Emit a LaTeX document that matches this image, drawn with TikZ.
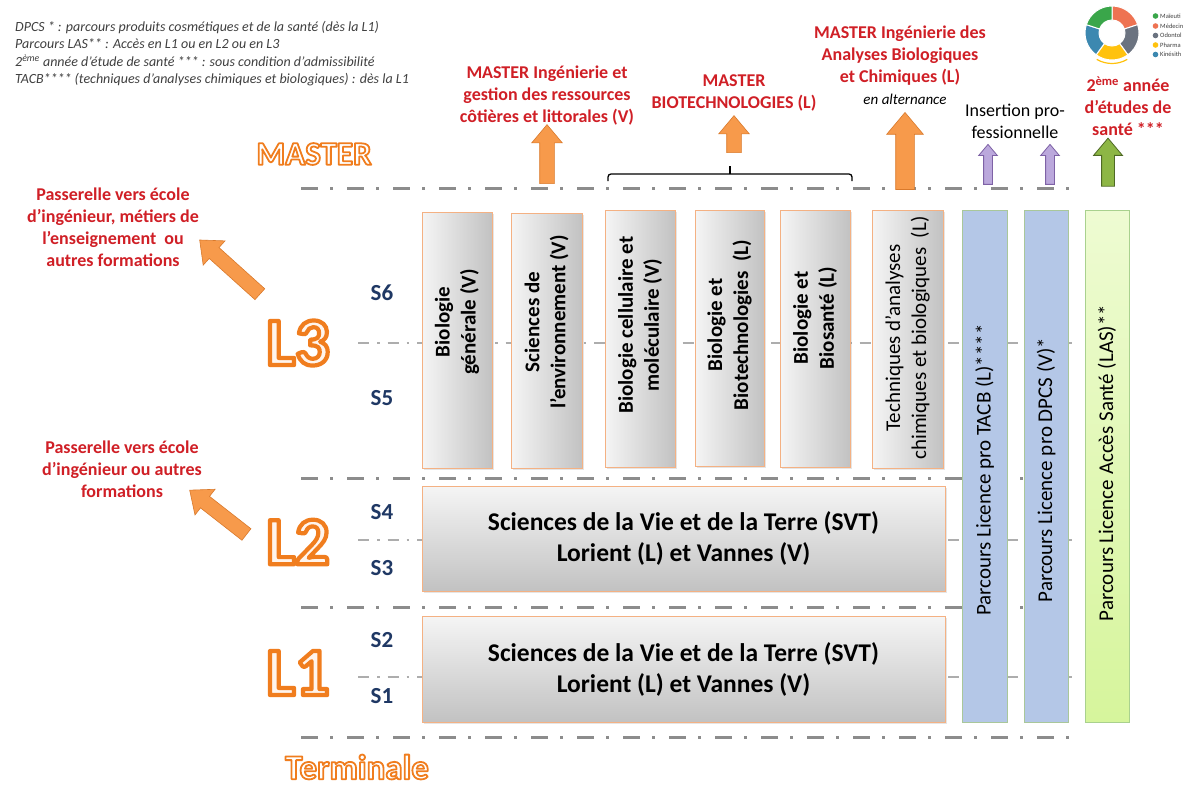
\documentclass[tikz,border=0pt]{standalone}
\usepackage{fontspec}
\setmainfont{Carlito}
\usetikzlibrary{shapes.arrows,shadows}

\definecolor{lred}{HTML}{D01F26}
\definecolor{lorange}{HTML}{F07D1E}
\definecolor{lfill}{HTML}{FFF4EC}
\definecolor{aorange}{HTML}{F79A4B}
\definecolor{aedge}{HTML}{D9792B}
\definecolor{bxedge}{HTML}{F4B183}
\definecolor{bxlight}{HTML}{F5F5F5}
\definecolor{bxdark}{HTML}{C2C2C2}
\definecolor{pblue}{HTML}{B4C7E7}
\definecolor{pbedge}{HTML}{A9C79A}
\definecolor{lgreen}{HTML}{D6F59C}
\definecolor{lgreenlt}{HTML}{EEFBD2}
\definecolor{gedge}{HTML}{A9D18E}
\definecolor{navy}{HTML}{1F3864}
\definecolor{lgray}{HTML}{8C8C8C}
\definecolor{sgray}{HTML}{ADADAD}
\definecolor{legtxt}{HTML}{404040}
\definecolor{ppl}{HTML}{BBA8DC}
\definecolor{ppledge}{HTML}{7E62A6}
\definecolor{agreen}{HTML}{8DB645}
\definecolor{agedge}{HTML}{4F6A25}
\definecolor{dgreen}{HTML}{3AA64A}
\definecolor{dorange}{HTML}{EE7352}
\definecolor{dgray}{HTML}{6B7380}
\definecolor{dyellow}{HTML}{FFC20E}
\definecolor{dblue}{HTML}{3C88B0}

% outlined text: stroke colour (r g b), stroke width, text
\newcommand\outlinetxt[3]{\special{pdf:literal direct #1 RG #2 w 1 j 2 Tr}#3\special{pdf:literal direct 0 Tr}}

\tikzset{
  mainline/.style={draw=lgray, line width=3pt, dash pattern=on 17pt off 12pt on 3pt off 14pt},
  semline/.style={draw=sgray, line width=1.8pt, dash pattern=on 11pt off 8pt on 2.5pt off 8pt},
  vbox/.style={draw=bxedge, line width=0.9pt, inner sep=0pt, left color=bxlight, right color=bxdark,
    drop shadow={shadow xshift=1.5pt, shadow yshift=-1.5pt, opacity=.2}},
  hbox/.style={draw=bxedge, line width=0.9pt, inner sep=0pt, top color=bxlight, bottom color=bxdark,
    drop shadow={shadow xshift=1.5pt, shadow yshift=-1.5pt, opacity=.2}, align=center,
    font=\fontsize{25.5}{31}\selectfont\bfseries},
  bluebox/.style={draw=pbedge, line width=0.9pt, inner sep=0pt, fill=pblue,
    drop shadow={shadow xshift=1.2pt, shadow yshift=-1.2pt, opacity=.15}},
  greenbox/.style={draw=gedge, line width=0.9pt, inner sep=0pt, top color=lgreenlt, bottom color=lgreen,
    drop shadow={shadow xshift=1.2pt, shadow yshift=-1.2pt, opacity=.15}},
  vtxt/.style={rotate=90, align=center, font=\fontsize{21}{26}\selectfont\bfseries},
  ptxt/.style={rotate=90, align=center, font=\fontsize{21}{26}\selectfont},
  redtxt/.style={align=center, text=lred, font=\fontsize{18}{22}\selectfont\bfseries},
  slabel/.style={text=navy, font=\fontsize{23}{23}\selectfont\bfseries},
  bigL/.style={text=lfill, font=\fontsize{68}{68}\selectfont\bfseries},
  outtxt/.style={text=white, inner sep=0pt, font=\fontsize{#1}{#1}\selectfont\bfseries},
  oarrow/.style={single arrow, draw=aedge, fill=aorange, line width=0.6pt, inner xsep=0pt,
    single arrow tip angle=80},
  parrow/.style={single arrow, draw=ppledge, fill=ppl, line width=0.8pt, inner xsep=0pt,
    single arrow tip angle=80, inner ysep=4pt, single arrow head extend=5pt},
  garrow/.style={single arrow, draw=agedge, fill=agreen, line width=0.8pt, inner xsep=0pt,
    single arrow tip angle=80, inner ysep=6pt, single arrow head extend=8pt},
}

\begin{document}
\begin{tikzpicture}[x=1pt,y=-1pt]
\useasboundingbox (0,0) rectangle (1194,787);
\fill[white] (0,0) rectangle (1194,787);

% ---------- legend text ----------
\node[anchor=north west, inner sep=0pt, align=left, text=legtxt,
      font=\fontsize{14}{17.5}\selectfont\itshape] (legend) at (15,21)
 {DPCS * : parcours produits cosmétiques et de la santé (dès la L1)\\
  Parcours LAS** : Accès en L1 ou en L2 ou en L3\\
  2\textsuperscript{ème} année d’étude de santé *** : sous condition d’admissibilité\\
  TACB**** (techniques d’analyses chimiques et biologiques) : dès la L1};

% ---------- donut chart ----------
\begin{scope}[shift={(1112,33)}, yscale=-1]
  \foreach \a/\c in {90/dorange, 18/dgray, -54/dyellow, -126/dblue, -198/dgreen}{
    \pgfmathsetmacro{\b}{\a-72}
    \fill[\c, draw=white, line width=1pt] (\a:27) arc[start angle=\a, end angle=\b, radius=27]
       -- (\b:13) arc[start angle=\b, end angle=\a, radius=13] -- cycle;
  }
  \draw[dyellow, line width=1.2pt] (-60:30.5) arc[start angle=-60, end angle=-120, radius=30.5];
\end{scope}
\coordinate (donut) at (1112,33);
\foreach \yy/\c/\t [count=\i] in {16/dgreen/Maïeuti, 26/dorange/Médecin, 35.5/dgray/Odontol, 45/dyellow/Pharma, 54.5/dblue/Kinésith}{
  \fill[\c] (1155.5,\yy) circle (2.8);
  \node[anchor=west, inner sep=0pt, text=legtxt, font=\fontsize{6.5}{6.5}\selectfont] (dl\i) at (1160,\yy) {\t};
}

% ---------- dash-dot lines ----------
\coordinate (mA1) at (301,188); \coordinate (mA2) at (1078,188);
\coordinate (mB1) at (301,478); \coordinate (mB2) at (1075,478);
\coordinate (mC1) at (301,607); \coordinate (mC2) at (1075,607);
\coordinate (mD1) at (301,737); \coordinate (mD2) at (1075,737);
\coordinate (sA1) at (358,343); \coordinate (sA2) at (1072,343);
\coordinate (sB1) at (358,540); \coordinate (sB2) at (1072,540);
\coordinate (sC1) at (358,677); \coordinate (sC2) at (1072,677);
\draw[semline] (sA1) -- (sA2);
\draw[semline] (sB1) -- (sB2);
\draw[semline] (sC1) -- (sC2);
\draw[mainline] (mA1) -- (mA2);
\draw[mainline] (mB1) -- (mB2);
\draw[mainline] (mC1) -- (mC2);
\draw[mainline] (mD1) -- (mD2);

% ---------- L3 vertical boxes ----------
\node[vbox, minimum width=70, minimum height=256] (b1) at (457,340) {};
\node[vbox, minimum width=71, minimum height=255] (b2) at (546.5,340.5) {};
\node[vbox, minimum width=70, minimum height=257] (b3) at (640,338.5) {};
\node[vbox, minimum width=69, minimum height=256] (b4) at (729.5,338) {};
\node[vbox, minimum width=70, minimum height=257] (b5) at (815,338.5) {};
\node[vbox, minimum width=71, minimum height=258] (b6) at (907.5,339) {};
\node[vtxt] (t1) at (457,322) {Biologie\\générale (V)};
\node[vtxt] (t2) at (546.5,322) {Sciences de\\l’environnement (V)};
\node[vtxt] (t3) at (640,325) {Biologie cellulaire et\\moléculaire (V)};
\node[vtxt] (t4) at (729.5,325) {Biologie et\\Biotechnologies~ (L)};
\node[vtxt] (t5) at (815,318) {Biologie et\\Biosanté (L)};
\node[ptxt] (t6) at (907.5,338) {Techniques d’analyses\\chimiques et biologiques~ (L)};

% ---------- L2 / L1 boxes ----------
\node[hbox, minimum width=523, minimum height=105] (svt2) at (683.5,538.5)
  {Sciences de la Vie et de la Terre (SVT)\\Lorient (L) et Vannes (V)};
\node[hbox, minimum width=523, minimum height=106] (svt1) at (683.5,669)
  {Sciences de la Vie et de la Terre (SVT)\\Lorient (L) et Vannes (V)};

% ---------- licence pro / LAS boxes ----------
\node[bluebox, minimum width=45, minimum height=512] (tacb) at (984.5,466) {};
\node[bluebox, minimum width=44, minimum height=512] (dpcs) at (1046,466) {};
\node[greenbox, minimum width=44, minimum height=512] (las) at (1107,466) {};
\node[ptxt] (ttacb) at (984.5,470) {Parcours Licence pro TACB (L)****};
\node[ptxt] (tdpcs) at (1046,470) {Parcours Licence pro DPCS (V)*};
\node[ptxt] (tlas) at (1107,463) {Parcours Licence Accès Santé (LAS)**};

% ---------- brace ----------
\coordinate (brL) at (608,181); \coordinate (brR) at (852,181);
\coordinate (brM) at (730,174); \coordinate (brT) at (730,166);
\draw[line width=1.3pt, rounded corners=3pt] (brL) -- (608,174) -- (852,174) -- (brR);
\draw[line width=1.3pt] (brM) -- (brT);

% ---------- upward arrows ----------
\node[oarrow, rotate=90, minimum height=59, inner ysep=7pt, single arrow head extend=8pt] (a1) at (547,158.5) {};
\node[oarrow, rotate=90, minimum height=37, inner ysep=7pt, single arrow head extend=8pt] (a2) at (734,138.5) {};
\node[oarrow, rotate=90, minimum height=77, inner ysep=9pt, single arrow head extend=9pt] (a3) at (905,156.5) {};
\node[parrow, rotate=90, minimum height=40] (p1) at (988,167) {};
\node[parrow, rotate=90, minimum height=40] (p2) at (1050,167) {};
\node[garrow, rotate=90, minimum height=48] (g1) at (1108,166) {};

% ---------- diagonal arrows ----------
\node[oarrow, rotate=138, minimum height=81, inner ysep=7pt, single arrow head extend=9pt] (d1) at (233,270) {};
\node[oarrow, rotate=142, minimum height=72, inner ysep=7pt, single arrow head extend=9pt] (d2) at (221.5,515) {};

% ---------- top labels ----------
\node[redtxt] (m1) at (547,96) {MASTER Ingénierie et\\gestion des ressources\\côtières et littorales (V)};
\node[redtxt] (m2) at (734,93) {MASTER\\BIOTECHNOLOGIES (L)};
\node[redtxt] (m3) at (900,56) {MASTER Ingénierie des\\Analyses Biologiques\\et Chimiques (L)};
\node[font=\fontsize{15}{15}\selectfont\itshape] (alt) at (905,99) {en alternance};
\node[align=center, font=\fontsize{18}{22}\selectfont] (ins) at (1015,121) {Insertion pro-\\fessionnelle};
\node[redtxt] (sante) at (1128,106) {2\textsuperscript{ème} année\\d’études de\\santé ***};

% ---------- passerelles ----------
\node[redtxt] (pass1) at (113,227) {Passerelle vers école\\d’ingénieur, métiers de\\l’enseignement~ ou\\autres formations};
\node[redtxt] (pass2) at (122,469) {Passerelle vers école\\d’ingénieur ou autres\\formations};

% ---------- level labels (outlined) ----------
\node[bigL] (l3) at (298,343) {\outlinetxt{0.941 0.490 0.118}{4.2}{L3}};
\node[bigL] (l2) at (298,542) {\outlinetxt{0.941 0.490 0.118}{4.2}{L2}};
\node[bigL] (l1) at (298,673) {\outlinetxt{0.941 0.490 0.118}{4.2}{L1}};
\node[outtxt=33] (master) at (314,154) {\outlinetxt{0.941 0.490 0.118}{1.8}{MASTER}};
\node[outtxt=35] (term) at (357,767) {\outlinetxt{0.941 0.490 0.118}{1.8}{Terminale}};

% ---------- semester labels ----------
\foreach \n/\yy in {6/293, 5/398, 4/512, 3/568, 2/640, 1/696}{
  \node[slabel] (s\n) at (382,\yy) {S\n};
}
\end{tikzpicture}
\end{document}
